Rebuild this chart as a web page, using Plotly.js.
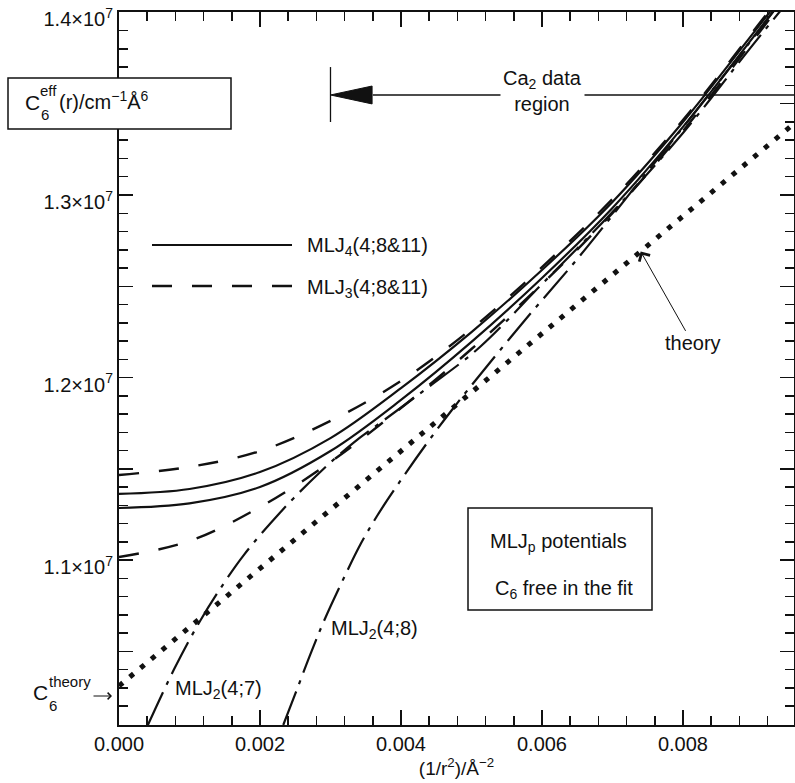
<!DOCTYPE html>
<html>
<head>
<meta charset="utf-8">
<script src="https://cdn.plot.ly/plotly-3.0.1.min.js"></script>
<style>html,body{margin:0;padding:0;background:#fff;}#chart{width:795px;height:783px;}</style>
</head>
<body>
<div id="chart"></div>
<script>
// ---- data ----
const xGrid = [0, 0.001, 0.002, 0.003, 0.004, 0.005, 0.006, 0.007, 0.008, 0.009, 0.0096];
const mlj4Upper = [1.1362e7, 1.1389e7, 1.1482e7, 1.1668e7, 1.1942e7, 1.2249e7, 1.2589e7, 1.2962e7, 1.3400e7, 1.3888e7, 1.4184e7];
const mlj4Lower = [1.1285e7, 1.1310e7, 1.1400e7, 1.1597e7, 1.1877e7, 1.2195e7, 1.2545e7, 1.2929e7, 1.3373e7, 1.3866e7, 1.4167e7];
const mlj3Upper = [1.1466e7, 1.1510e7, 1.1597e7, 1.1762e7, 1.1981e7, 1.2266e7, 1.2605e7, 1.2978e7, 1.3411e7, 1.3899e7, 1.4195e7];
const mlj3Lower = [1.1016e7, 1.1104e7, 1.1290e7, 1.1537e7, 1.1833e7, 1.2156e7, 1.2512e7, 1.2901e7, 1.3351e7, 1.3849e7, 1.4151e7];

const mlj2_47_x = [0.00041, 0.00079, 0.00115, 0.00149, 0.00177, 0.00228, 0.00284, 0.00332, 0.0038, 0.00441, 0.00512, 0.006, 0.007, 0.008, 0.009, 0.0096];
const mlj2_47_y = [1.0096e7, 1.0408e7, 1.0666e7, 1.0874e7, 1.1027e7, 1.1258e7, 1.1477e7, 1.1641e7, 1.1778e7, 1.1953e7, 1.2167e7, 1.2512e7, 1.2907e7, 1.3340e7, 1.3827e7, 1.4112e7];

const mlj2_48_x = [0.00233, 0.0025, 0.00271, 0.00292, 0.00321, 0.00342, 0.00366, 0.00399, 0.00437, 0.0047, 0.00505, 0.00576, 0.0065, 0.00722, 0.00796, 0.00853, 0.00895, 0.00931, 0.00955];
const mlj2_48_y = [1.0096e7, 1.0266e7, 1.0479e7, 1.0677e7, 1.0918e7, 1.1082e7, 1.1241e7, 1.1433e7, 1.1641e7, 1.1811e7, 1.1981e7, 1.2315e7, 1.2649e7, 1.2995e7, 1.3351e7, 1.3630e7, 1.3838e7, 1.4019e7, 1.4134e7];

const theoryX = [0, 0.0096];
const theoryY = [1.0310e7, 1.3399e7];

const yTickVals = [1.05e7, 1.1e7, 1.15e7, 1.2e7, 1.25e7, 1.3e7, 1.35e7, 1.4e7];
const yTickText = [' ', '1.1×10<sup>7</sup>', ' ', '1.2×10<sup>7</sup>', ' ', '1.3×10<sup>7</sup>', ' ', '1.4×10<sup>7</sup>'];

// ---- layout helpers (pixel -> paper) ----
const L = 119, T = 12, W = 675, H = 713;
const PX = p => (p - L) / W;
const PY = p => (T + H - p) / H;
const FONT = 'Liberation Sans, Arial, Helvetica, sans-serif';
const K = '#111';

const solid = {color: K, width: 2.2};
const dashed = {color: K, width: 2.4, dash: '20px,20px'};
const dashdot = {color: K, width: 2.2, dash: '36px,8px,4px,8px'};

const traces = [
  {x: xGrid, y: mlj4Upper, mode: 'lines', line: Object.assign({shape: 'spline'}, solid), name: 'MLJ4 a'},
  {x: xGrid, y: mlj4Lower, mode: 'lines', line: Object.assign({shape: 'spline'}, solid), name: 'MLJ4 b'},
  {x: xGrid, y: mlj3Upper, mode: 'lines', line: Object.assign({shape: 'spline'}, dashed), name: 'MLJ3 a'},
  {x: xGrid, y: mlj3Lower, mode: 'lines', line: Object.assign({shape: 'spline'}, dashed), name: 'MLJ3 b'},
  {x: mlj2_47_x, y: mlj2_47_y, mode: 'lines', line: Object.assign({shape: 'spline'}, dashdot), name: 'MLJ2(4;7)'},
  {x: mlj2_48_x, y: mlj2_48_y, mode: 'lines', line: Object.assign({shape: 'spline'}, dashdot), name: 'MLJ2(4;8)'},
  {x: theoryX, y: theoryY, mode: 'lines', line: {color: K, width: 5, dash: '5px,9px'}, name: 'theory'}
];

function txt(text, px, py, size, xanchor, yanchor, extra) {
  return Object.assign({
    text: text, xref: 'paper', yref: 'paper', x: PX(px), y: PY(py),
    xanchor: xanchor || 'left', yanchor: yanchor || 'middle', showarrow: false,
    font: {family: FONT, size: size, color: K}
  }, extra || {});
}

const annotations = [
  // y-axis title in box
  txt('C', 23, 103, 21),
  txt('eff', 38, 91, 15),
  txt('6', 39, 114, 15),
  txt('(r)/cm<sup>−1</sup>Å<sup>6</sup>', 57, 100, 20),
  // C6 theory arrow label
  txt('C', 31, 692, 21),
  txt('theory', 47, 681, 15),
  txt('6', 47, 705, 15),
  {text: '', xref: 'paper', yref: 'paper', x: PX(112), y: PY(696), ax: -20, ay: 0,
   showarrow: true, arrowhead: 4, arrowsize: 1.3, arrowwidth: 1, arrowcolor: K},
  // legend texts
  txt('MLJ<sub>4</sub>(4;8&amp;11)', 305, 247, 20),
  txt('MLJ<sub>3</sub>(4;8&amp;11)', 305, 288, 20),
  // curve labels
  txt('MLJ<sub>2</sub>(4;7)', 173, 689, 20),
  txt('MLJ<sub>2</sub>(4;8)', 329, 629, 20),
  // Ca2 data region
  txt('Ca<sub>2</sub> data<br>region', 542, 91, 20, 'center', 'middle', {bgcolor: '#fff', borderpad: 2}),
  // box texts
  txt('MLJ<sub>p</sub> potentials', 558, 542, 20, 'center'),
  txt('C<sub>6</sub> free in the fit', 564, 589, 20, 'center'),
  // theory arrow
  {text: 'theory', x: 0.0074, y: 1.2691e7, xref: 'x', yref: 'y', showarrow: true,
   ax: 52, ay: 92, arrowhead: 4, arrowsize: 2.4, arrowwidth: 1, arrowcolor: K,
   font: {family: FONT, size: 20, color: K}}
];

const shapes = [
  // y title box (covers axis line)
  {type: 'rect', xref: 'paper', yref: 'paper', x0: PX(8), x1: PX(231), y0: PY(78), y1: PY(129),
   fillcolor: '#fff', line: {color: K, width: 1.5}, layer: 'above'},
  // legend sample lines
  {type: 'line', xref: 'paper', yref: 'paper', x0: PX(152), x1: PX(292), y0: PY(245), y1: PY(245),
   line: {color: K, width: 2.2}},
  {type: 'line', xref: 'paper', yref: 'paper', x0: PX(152), x1: PX(292), y0: PY(286), y1: PY(286),
   line: {color: K, width: 2.4, dash: '20px,20px'}},
  // data region marker
  {type: 'line', xref: 'x', yref: 'y', x0: 0.003, x1: 0.003, y0: 1.3400e7, y1: 1.3701e7, line: {color: K, width: 1.3}},
  {type: 'line', xref: 'x', yref: 'y', x0: 0.0036, x1: 0.00958, y0: 1.3548e7, y1: 1.3548e7, line: {color: K, width: 1.3}},
  {type: 'path', xref: 'x', yref: 'y', path: 'M 0.003,13548000 L 0.00359,13597000 L 0.00359,13499000 Z',
   fillcolor: K, line: {color: K, width: 1}},
  // info box
  {type: 'rect', xref: 'paper', yref: 'paper', x0: PX(468), x1: PX(652), y0: PY(508), y1: PY(610),
   fillcolor: 'rgba(0,0,0,0)', line: {color: K, width: 1.5}}
];

const layout = {
  width: 795, height: 783,
  margin: {l: L, r: 795 - L - W, t: T, b: 783 - T - H, pad: 0},
  paper_bgcolor: '#fff', plot_bgcolor: '#fff',
  showlegend: false,
  font: {family: FONT, size: 20, color: K},
  xaxis: {
    range: [0, 0.009575], tickmode: 'linear', tick0: 0, dtick: 0.002, tickformat: '.3f',
    ticks: 'inside', ticklen: 15, tickwidth: 1.5, tickcolor: K,
    minor: {tickmode: 'linear', tick0: 0, dtick: 0.0004, ticks: 'inside', ticklen: 9, tickwidth: 1.5, tickcolor: K},
    showline: true, linewidth: 2, linecolor: K, mirror: 'ticks',
    showgrid: false, zeroline: false, ticklabeloverflow: 'allow',
    tickfont: {family: FONT, size: 20, color: K},
    title: {text: '(1/r<sup>2</sup>)/Å<sup>−2</sup>', font: {family: FONT, size: 19, color: K}, standoff: 6}
  },
  yaxis: {
    range: [1.00959e7, 1.40027e7], tickmode: 'array', tickvals: yTickVals, ticktext: yTickText,
    ticks: 'inside', ticklen: 14, tickwidth: 1.5, tickcolor: K, ticklabelshift: 7,
    minor: {tickmode: 'linear', tick0: 1e7, dtick: 1e5, ticks: 'inside', ticklen: 9, tickwidth: 1.5, tickcolor: K},
    showline: true, linewidth: 2, linecolor: K, mirror: 'ticks',
    showgrid: false, zeroline: false, ticklabeloverflow: 'allow',
    tickfont: {family: FONT, size: 20, color: K}
  },
  annotations: annotations,
  shapes: shapes
};

Plotly.newPlot('chart', traces, layout, {displayModeBar: false, staticPlot: true});
</script>
</body>
</html>
